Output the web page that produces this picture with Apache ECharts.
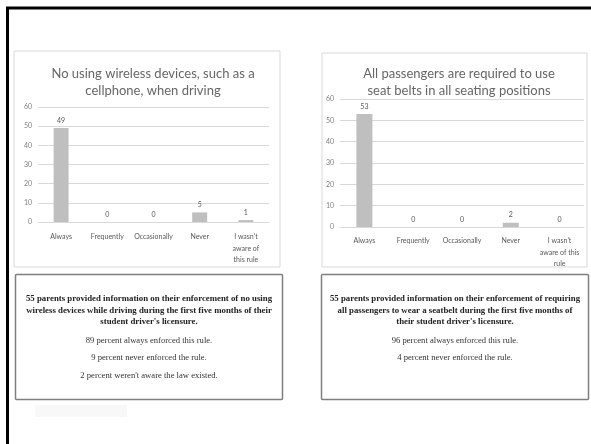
<!DOCTYPE html>
<html><head><meta charset="utf-8">
<script src="https://cdn.jsdelivr.net/npm/echarts@6/dist/echarts.min.js"></script>
<style>html,body{margin:0;padding:0;background:#fff}#c{width:591px;height:444px}</style>
</head><body><div id="c"></div>
<script>
const categories1 = ["Always", "Frequently", "Occasionally", "Never", "I wasn't\naware of\nthis rule"];
const categories2 = ["Always", "Frequently", "Occasionally", "Never", "I wasn't\naware of this\nrule"];
const values1 = [49, 0, 0, 5, 1];
const values2 = [53, 0, 0, 2, 0];
const title1 = "No using wireless devices, such as a\ncellphone, when driving";
const title2 = "All passengers are required to use\nseat belts in all seating positions";
const yTicks = [0, 10, 20, 30, 40, 50, 60];
const note1Bold = "55 parents provided information on their enforcement of no using\nwireless devices while driving during the first five months of their\nstudent driver's licensure.";
const note1Lines = ["89 percent always enforced this rule.", "9 percent never enforced the rule.", "2 percent weren't aware the law existed."];
const note2Bold = "55 parents provided information on their enforcement of requiring\nall passengers to wear a seatbelt during the first five months of\ntheir student driver's licensure.";
const note2Lines = ["96 percent always enforced this rule.", "4 percent never enforced the rule."];

const chart = echarts.init(document.getElementById('c'), null, {renderer: 'canvas'});
const txt = '#595959';
const yAxisBase = {
  type: 'value', min: yTicks[0], max: yTicks[yTicks.length - 1], interval: 10,
  axisLine: {show: false}, axisTick: {show: false},
  splitLine: {lineStyle: {color: '#d9d9d9', width: 1}},
  axisLabel: {color: '#7f7f7f', fontSize: 7, fontFamily: 'Lato', margin: 6}
};
const xAxisBase = {
  type: 'category', axisTick: {show: false},
  axisLine: {lineStyle: {color: '#d9d9d9'}},
  axisLabel: {color: txt, fontSize: 7, fontFamily: 'Lato', margin: 9, lineHeight: 11.5, interval: 0}
};
const serif = 'Liberation Serif';
function noteGraphics(cx, bold, lines) {
  const g = [{
    type: 'text', style: {text: bold, x: cx, y: 293, align: 'center', verticalAlign: 'top',
      fontFamily: serif, fontSize: 8.8, fontWeight: 'bold', lineHeight: 11.6, fill: '#222'}
  }];
  lines.forEach((t, i) => g.push({
    type: 'text', style: {text: t, x: cx, y: 336 + i * 17.5, align: 'center', verticalAlign: 'top',
      fontFamily: serif, fontSize: 8.6, fill: '#333'}
  }));
  return g;
}
const titleStyle = {color: '#666', fontSize: 13, fontWeight: 'normal', fontFamily: 'Lato', lineHeight: 16.5};
const option = {
  animation: false,
  backgroundColor: '#fff',
  title: [
    {text: title1, left: 148, top: 61, textAlign: 'center', textStyle: titleStyle},
    {text: title2, left: 454, top: 61, textAlign: 'center', textStyle: titleStyle}
  ],
  grid: [
    {left: 38, top: 107, width: 231, height: 115},
    {left: 340, top: 99, width: 244, height: 128}
  ],
  xAxis: [
    Object.assign({}, xAxisBase, {gridIndex: 0, data: categories1}),
    Object.assign({}, xAxisBase, {gridIndex: 1, data: categories2, axisLabel: Object.assign({}, xAxisBase.axisLabel, {margin: 8})})
  ],
  yAxis: [
    Object.assign({}, yAxisBase, {gridIndex: 0}),
    Object.assign({}, yAxisBase, {gridIndex: 1})
  ],
  series: [
    {type: 'bar', xAxisIndex: 0, yAxisIndex: 0, data: values1, barWidth: 15,
     itemStyle: {color: '#bfbfbf'},
     label: {show: true, position: 'top', distance: 4, color: txt, fontSize: 7, fontFamily: 'Lato'}},
    {type: 'bar', xAxisIndex: 1, yAxisIndex: 1, data: values2, barWidth: 16,
     itemStyle: {color: '#bfbfbf'},
     label: {show: true, position: 'top', distance: 4, color: txt, fontSize: 7, fontFamily: 'Lato'}}
  ],
  graphic: [
    {type: 'rect', z: -10, shape: {x: 14, y: 51, width: 266, height: 216}, style: {fill: 'none', stroke: '#d9d9d9', lineWidth: 1}},
    {type: 'rect', z: -10, shape: {x: 322, y: 53, width: 265, height: 214}, style: {fill: 'none', stroke: '#d9d9d9', lineWidth: 1}},
    {type: 'rect', shape: {x: 15.5, y: 274.5, width: 267, height: 125, r: 1}, style: {fill: 'none', stroke: '#7f7f7f', lineWidth: 1.5}},
    {type: 'rect', shape: {x: 321.5, y: 274.5, width: 267, height: 125, r: 1}, style: {fill: 'none', stroke: '#7f7f7f', lineWidth: 1.5}},
    {type: 'rect', z: -10, shape: {x: 35, y: 405, width: 92, height: 12}, style: {fill: '#f8f8f8'}},
    {type: 'line', shape: {x1: 7.5, y1: 8, x2: 7.5, y2: 444}, style: {stroke: '#000', lineWidth: 3}},
    {type: 'line', shape: {x1: 6, y1: 8, x2: 591, y2: 8}, style: {stroke: '#000', lineWidth: 3}}
  ].concat(noteGraphics(149, note1Bold, note1Lines), noteGraphics(455, note2Bold, note2Lines))
};
chart.setOption(option);
</script></body></html>
